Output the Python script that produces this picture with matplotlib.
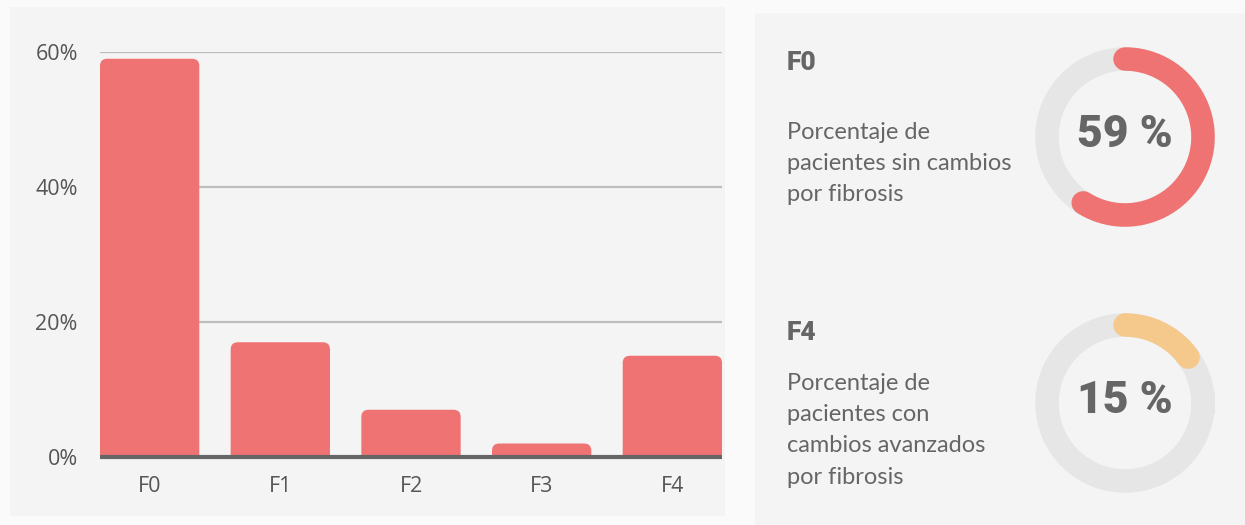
import numpy as np
import matplotlib
matplotlib.use("Agg")
import matplotlib.pyplot as plt
from matplotlib.patches import FancyBboxPatch, Rectangle

### data
categorias = ["F0", "F1", "F2", "F3", "F4"]
porcentajes = [59, 17, 7, 2, 15]
yticks = [0, 20, 40, 60]

# donut cards on the right
tarjetas = ["F0", "F4"]
valores_tarjeta = [59, 15]
textos_tarjeta = ["Porcentaje de\npacientes sin cambios\npor fibrosis",
                  "Porcentaje de\npacientes con\ncambios avanzados\npor fibrosis"]

### colours
ROJO = "#ef7372"
NARANJA = "#f5c98b"
GRIS_TXT = "#666666"
GRIS_ANILLO = "#e6e6e6"
FONDO = "#f4f4f4"

W, H = 1245, 525
fig = plt.figure(figsize=(W / 100, H / 100), dpi=100)
fig.patch.set_facecolor("#fafafa")

def px(x0, y0, x1, y1):
    # pixel box (top-left origin) -> figure fraction rect
    return [x0 / W, 1 - y1 / H, (x1 - x0) / W, (y1 - y0) / H]

# card backgrounds
for (x0, y0, x1, y1) in [(10, 7, 725, 516), (755, 13, 1245, 525)]:
    fig.patches.append(Rectangle((x0 / W, 1 - y1 / H), (x1 - x0) / W, (y1 - y0) / H,
                                 transform=fig.transFigure, facecolor=FONDO,
                                 edgecolor="none", zorder=-5))

##################################### bar chart #################################
ax = fig.add_axes(px(100, 52, 722, 457))
ax.set_facecolor("none")
ancho = 0.76
ax.set_xlim(-0.38, 4.38)
ax.set_ylim(0, 60)

# rounded tops: radius given in x units, stretched to y by mutation_aspect
radio = 0.055
aspecto = (60 / 405) / (4.76 / 622)
for i, v in enumerate(porcentajes):
    b = FancyBboxPatch((i - ancho / 2, -3), ancho, v + 3,
                       boxstyle=f"round,pad=0,rounding_size={radio}",
                       mutation_aspect=aspecto, facecolor=ROJO,
                       edgecolor="none", zorder=2, clip_on=True)
    ax.add_patch(b)

for y in yticks[1:]:
    ax.axhline(y, color="#bdbdbd", lw=1.6, zorder=1)
ax.axhline(0, color="#666666", lw=3, zorder=3, clip_on=False, solid_capstyle="butt")

for s in ax.spines.values():
    s.set_visible(False)
ax.set_xticks(range(len(categorias)))
ax.set_xticklabels(categorias)
ax.set_yticks(yticks)
ax.set_yticklabels([f"{t}%" for t in yticks])
ax.tick_params(length=0, labelsize=15.5, labelcolor="#555555")
ax.tick_params(axis="x", pad=14)
ax.tick_params(axis="y", pad=16)
for lab in ax.get_xticklabels() + ax.get_yticklabels():
    lab.set_fontfamily("Open Sans")

##################################### donut cards #################################
centros = [137, 403]
y_titulo = [63, 333]
y_texto = [122, 373]
colores = [ROJO, NARANJA]
for k in range(2):
    cy = centros[k]
    # heading and description
    fig.text(787 / W, 1 - y_titulo[k] / H, tarjetas[k], fontsize=19, fontweight=900,
             family="Roboto", color=GRIS_TXT, va="center", ha="left")
    fig.text(787 / W, 1 - y_texto[k] / H, textos_tarjeta[k], fontsize=17,
             family="Lato", color=GRIS_TXT, va="top", ha="left", linespacing=1.6)

    dax = fig.add_axes(px(1025, cy - 100, 1225, cy + 100))
    dax.set_xlim(-1, 1)
    dax.set_ylim(-1, 1)
    dax.set_aspect("equal")
    dax.axis("off")
    r = 0.78
    lw = 23.5 * 72 / 100
    t = np.linspace(0, 2 * np.pi, 300)
    dax.plot(r * np.cos(t), r * np.sin(t), color=GRIS_ANILLO, lw=lw)
    # arc clockwise from 12 o'clock
    fin = valores_tarjeta[k] / 100 * 2 * np.pi
    t = np.pi / 2 - np.linspace(0, fin, 200)
    dax.plot(r * np.cos(t), r * np.sin(t), color=colores[k], lw=lw,
             solid_capstyle="round")
    dax.text(0, 0.02, f"{valores_tarjeta[k]} %", fontsize=32, fontweight=900,
             family="Roboto", color=GRIS_TXT, ha="center", va="center")

fig.savefig("out.png", dpi=100, facecolor=fig.get_facecolor())
